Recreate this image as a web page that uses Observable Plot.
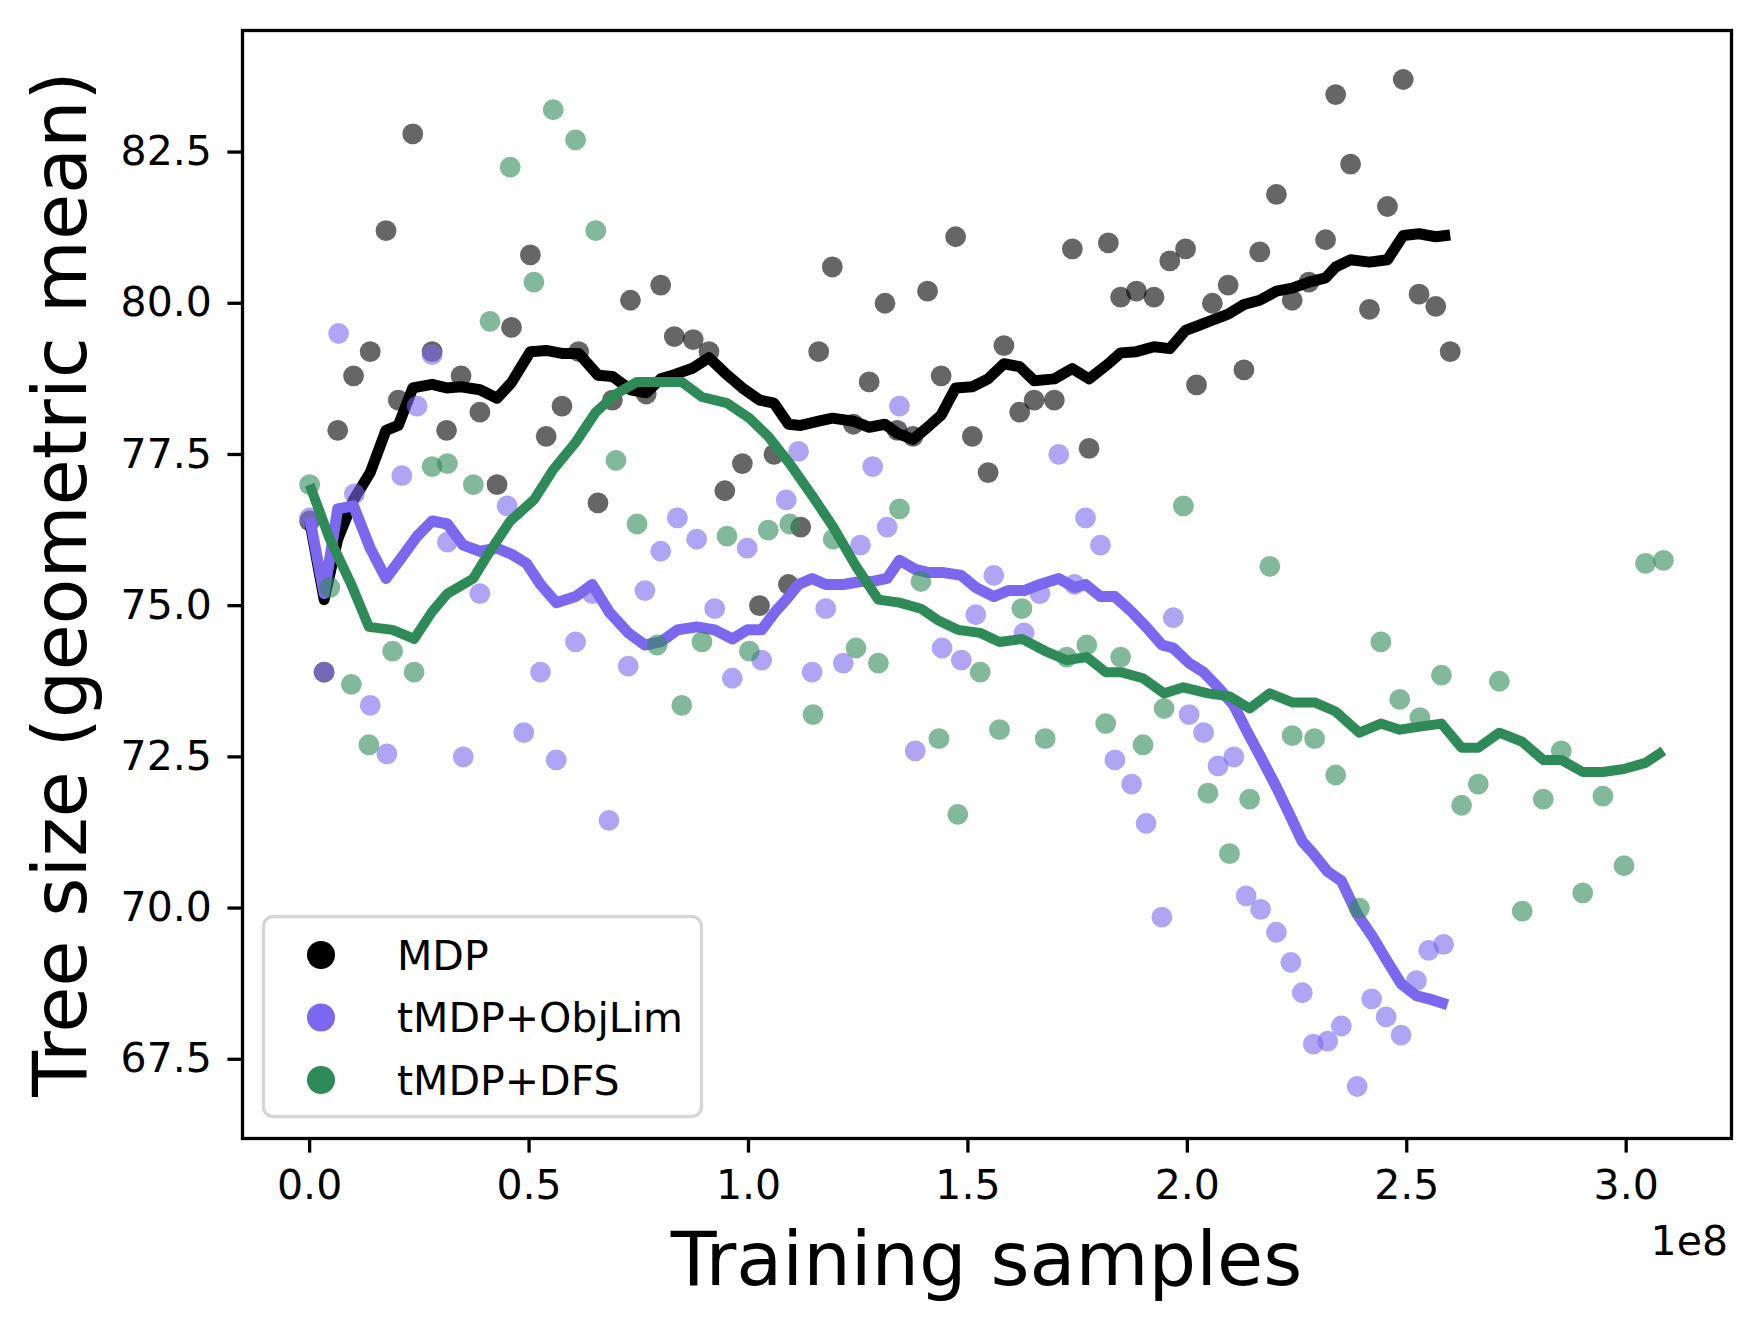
<!DOCTYPE html>
<html><head><meta charset="utf-8">
<script src="https://cdn.jsdelivr.net/npm/d3@7"></script>
<script src="https://cdn.jsdelivr.net/npm/@observablehq/plot@0.6"></script>
<style>body{margin:0;background:#fff} svg{display:block}</style>
</head><body><div id="chart"></div>
<script>
// ---- data (x in units of 1e8 training samples) ----
const seriesNames = ["MDP", "tMDP+ObjLim", "tMDP+DFS"];
const seriesColors = ["#000000", "#7B68EE", "#2E8B57"];
const xTicks = [0, 0.5, 1.0, 1.5, 2.0, 2.5, 3.0];
const yTicks = [67.5, 70.0, 72.5, 75.0, 77.5, 80.0, 82.5];

const mdpT = [0,0.033,0.064,0.100,0.138,0.174,0.202,0.235,0.279,0.312,0.345,0.388,0.427,0.460,0.503,0.539,0.575,0.613,0.657,0.690,0.731,0.767,0.800,0.831,0.874,0.910,0.946,0.986,1.025,1.058,1.091,1.119,1.160,1.191,1.239,1.275,1.311,1.339,1.375,1.408,1.439,1.472,1.510,1.546,1.582,1.618,1.651,1.697,1.738,1.776,1.820,1.848,1.884,1.924,1.960,1.996,2.021,2.057,2.093,2.129,2.165,2.203,2.239,2.277,2.315,2.338,2.372,2.415,2.456,2.492,2.528,2.566,2.599];
const mdpV = [76.4,73.9,77.9,78.8,79.2,81.2,78.4,82.8,79.2,77.9,78.8,78.2,77.0,79.6,80.8,77.8,78.3,79.2,76.7,78.4,80.05,78.5,80.3,79.45,79.4,79.2,76.9,77.35,75.0,77.5,75.35,76.3,79.2,80.6,78.0,78.7,80.0,77.9,77.8,80.2,78.8,81.1,77.8,77.2,79.3,78.2,78.4,78.4,80.9,77.6,81.0,80.1,80.2,80.1,80.7,80.9,78.65,80.0,80.3,78.9,80.85,81.8,80.05,80.35,81.05,83.45,82.3,79.9,81.6,83.7,80.15,79.95,79.2];
const mdpLineV = [76.4,75.1,76.1,76.75,77.2,77.9,77.98,78.6,78.66,78.6,78.62,78.57,78.43,78.69,79.2,79.22,79.17,79.17,78.81,78.79,78.57,78.52,78.75,78.82,78.93,79.1,78.85,78.6,78.4,78.35,78.0,77.98,78.05,78.1,78.05,77.95,78.0,77.85,77.75,77.95,78.15,78.6,78.62,78.75,79.0,78.95,78.72,78.75,78.92,78.75,79.0,79.18,79.2,79.28,79.25,79.55,79.62,79.72,79.82,79.98,80.05,80.2,80.25,80.35,80.42,80.6,80.72,80.68,80.72,81.12,81.15,81.1,81.13];

const objT = [0,0.033,0.066,0.102,0.138,0.176,0.210,0.245,0.279,0.314,0.350,0.388,0.450,0.488,0.526,0.562,0.606,0.644,0.682,0.726,0.764,0.800,0.838,0.882,0.923,0.963,0.997,1.030,1.086,1.114,1.145,1.176,1.216,1.255,1.283,1.316,1.344,1.380,1.441,1.485,1.518,1.559,1.628,1.664,1.707,1.743,1.768,1.802,1.835,1.873,1.906,1.942,1.968,2.004,2.037,2.070,2.106,2.134,2.167,2.203,2.236,2.262,2.287,2.320,2.351,2.387,2.420,2.453,2.487,2.522,2.550,2.584];
const objV = [76.45,73.9,79.5,76.85,73.35,72.55,77.15,78.3,79.15,76.05,72.5,75.2,76.65,72.9,73.9,72.45,74.4,75.2,71.45,74.0,75.25,75.9,76.45,76.1,74.95,73.8,75.95,74.1,76.75,77.55,73.9,74.95,74.05,76.0,77.3,76.3,78.3,72.6,74.3,74.1,74.85,75.5,74.55,75.2,77.5,75.35,76.45,76.0,72.45,72.05,71.4,69.85,74.8,73.2,72.9,72.35,72.5,70.2,69.98,69.6,69.1,68.6,67.75,67.8,68.05,67.05,68.5,68.2,67.9,68.8,69.3,69.4];
const objLineT = [0,0.033,0.064,0.100,0.138,0.174,0.210,0.245,0.279,0.314,0.350,0.388,0.427,0.460,0.494,0.526,0.562,0.606,0.644,0.682,0.726,0.764,0.800,0.838,0.882,0.923,0.963,0.997,1.030,1.061,1.086,1.114,1.145,1.176,1.216,1.255,1.283,1.316,1.344,1.380,1.408,1.441,1.485,1.518,1.559,1.592,1.628,1.664,1.707,1.743,1.768,1.802,1.835,1.873,1.906,1.942,1.968,2.004,2.037,2.070,2.106,2.134,2.167,2.203,2.236,2.262,2.287,2.320,2.351,2.387,2.420,2.453,2.487,2.522,2.550,2.593];
const objLineV = [76.45,75.2,76.6,76.65,75.95,75.45,75.8,76.15,76.4,76.35,76.0,75.9,75.95,75.85,75.7,75.35,75.05,75.15,75.35,74.9,74.55,74.35,74.4,74.6,74.65,74.6,74.45,74.6,74.6,74.9,75.1,75.35,75.45,75.35,75.35,75.4,75.4,75.45,75.75,75.6,75.55,75.55,75.5,75.3,75.15,75.25,75.25,75.35,75.45,75.3,75.35,75.15,75.15,74.9,74.65,74.35,74.3,74.05,73.9,73.65,73.35,72.95,72.5,72.0,71.5,71.1,70.9,70.6,70.45,69.9,69.55,69.15,68.75,68.55,68.5,68.4];

const dfsT = [0,0.046,0.095,0.135,0.189,0.238,0.279,0.314,0.373,0.411,0.457,0.511,0.555,0.606,0.652,0.698,0.746,0.792,0.848,0.894,0.951,1.002,1.045,1.094,1.147,1.193,1.245,1.296,1.344,1.393,1.434,1.477,1.528,1.572,1.623,1.676,1.725,1.771,1.814,1.848,1.899,1.947,1.991,2.047,2.096,2.142,2.188,2.239,2.290,2.338,2.392,2.441,2.484,2.530,2.579,2.625,2.663,2.711,2.763,2.811,2.852,2.901,2.947,2.995,3.044,3.085];
const dfsV = [77.0,75.3,73.7,72.7,74.25,73.9,77.3,77.35,77.0,79.7,82.25,80.35,83.2,82.7,81.2,77.4,76.35,74.35,73.35,74.4,76.15,74.25,76.25,76.35,73.2,76.1,74.3,74.05,76.6,75.4,72.8,71.55,73.9,72.95,74.95,72.8,74.15,74.35,73.05,74.15,72.7,73.3,76.65,71.9,70.9,71.8,75.65,72.85,72.8,72.2,70.0,74.4,73.45,73.15,73.85,71.7,72.05,73.75,69.95,71.8,72.6,70.25,71.85,70.7,75.7,75.75];
const dfsLineV = [77.0,76.1,75.35,74.65,74.6,74.45,74.9,75.2,75.45,75.9,76.4,76.75,77.25,77.7,78.2,78.5,78.7,78.7,78.7,78.45,78.35,78.1,77.8,77.35,76.8,76.3,75.65,75.1,75.05,74.95,74.75,74.6,74.55,74.4,74.45,74.25,74.1,74.15,73.9,73.9,73.8,73.55,73.65,73.55,73.5,73.3,73.55,73.4,73.4,73.25,72.9,73.05,72.95,73.0,73.05,72.65,72.65,72.9,72.75,72.45,72.45,72.25,72.25,72.3,72.4,72.6];

// ---- build rows ----
const rows = (T, V) => T.map((t, i) => ({t, v: V[i]}));
const mdpPts = rows(mdpT, mdpV), mdpLine = rows(mdpT, mdpLineV);
const objPts = rows(objT, objV), objLine = rows(objLineT, objLineV);
const dfsPts = rows(dfsT, dfsV), dfsLine = rows(dfsT, dfsLineV);

const W = 1759, H = 1329;
const M = {left: 242, right: 28, top: 30, bottom: 191};
const lineOpts = (c, w) => ({x: "t", y: "v", stroke: c, strokeWidth: w, strokeLinejoin: "round", strokeLinecap: "butt"});
const dotOpts = c => ({x: "t", y: "v", r: 10.4, fill: c, fillOpacity: 0.6, stroke: "none"});

const chart = Plot.plot({
  width: W, height: H,
  marginLeft: M.left, marginRight: M.right, marginTop: M.top, marginBottom: M.bottom,
  style: {fontFamily: "DejaVu Sans", fontSize: "41px", background: "white", color: "black", overflow: "visible"},
  x: {domain: [-0.153, 3.24]},
  y: {domain: [66.19, 84.51]},
  marks: [
    Plot.dot(mdpPts, dotOpts(seriesColors[0])),
    Plot.line(mdpLine, lineOpts(seriesColors[0], 11)),
    Plot.dot(objPts, dotOpts(seriesColors[1])),
    Plot.line(objLine, lineOpts(seriesColors[1], 11)),
    Plot.dot(dfsPts, dotOpts(seriesColors[2])),
    Plot.line(dfsLine, lineOpts(seriesColors[2], 10)),
    Plot.frame({stroke: "black", strokeWidth: 3.3}),
    Plot.axisX({ticks: xTicks, tickFormat: d => d.toFixed(1), tickSize: 14.6, tickPadding: 17, strokeWidth: 3.3, fontSize: 41, label: null}),
    Plot.axisY({ticks: yTicks, tickFormat: d => d.toFixed(1), tickSize: 14.6, tickPadding: 16, strokeWidth: 3.3, fontSize: 41, label: null})
  ]
});
document.getElementById("chart").appendChild(chart);

// ---- labels and legend ----
const svg = d3.select(chart);
const cx = (M.left + (W - M.right)) / 2, cy = (M.top + (H - M.bottom)) / 2;
svg.append("text").attr("x", cx).attr("y", 1285).attr("text-anchor", "middle")
  .attr("font-size", 75).attr("fill", "black").text("Training samples");
svg.append("text").attr("transform", `translate(86,${cy}) rotate(-90)`).attr("text-anchor", "middle")
  .attr("font-size", 75).attr("fill", "black").text("Tree size (geometric mean)");
svg.append("text").attr("x", 1728).attr("y", 1255).attr("text-anchor", "end")
  .attr("font-size", 41).attr("fill", "black").text("1e8");

const lg = svg.append("g");
lg.append("rect").attr("x", 263.5).attr("y", 916.5).attr("width", 438).attr("height", 200)
  .attr("rx", 10).attr("fill", "white").attr("fill-opacity", 0.8).attr("stroke", "#d6d6d6").attr("stroke-width", 3.3);
seriesNames.forEach((name, i) => {
  const y = 955 + i * 62.5;
  lg.append("circle").attr("cx", 321).attr("cy", y).attr("r", 14).attr("fill", seriesColors[i]);
  lg.append("text").attr("x", 397).attr("y", y).attr("dy", "0.36em").attr("text-anchor", "start")
    .attr("font-size", 41).attr("fill", "black").text(name);
});
</script>
</body></html>
